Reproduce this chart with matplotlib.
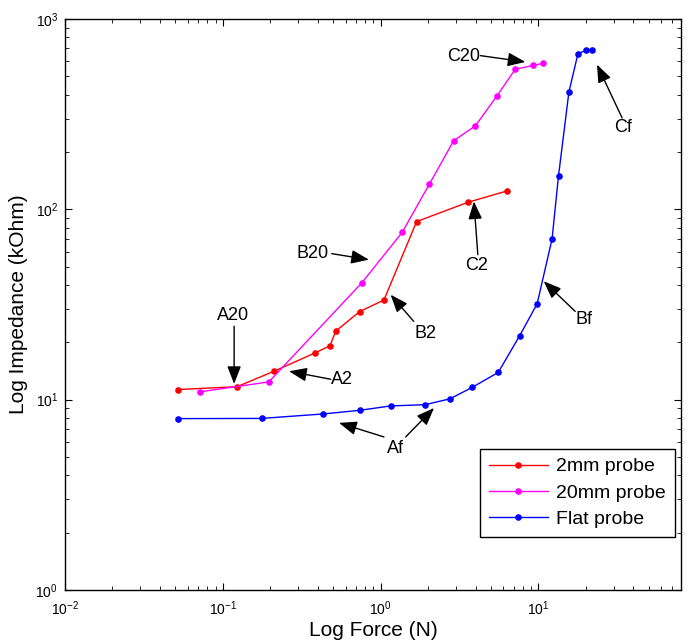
# log-log plot of probe impedance against applied force
import matplotlib.pyplot as plt

plt.rcParams['font.family'] = ['Liberation Sans', 'DejaVu Sans']

# 2mm probe
force_2mm = [0.052, 0.123, 0.211, 0.384, 0.478, 0.519, 0.736, 1.05, 1.69, 3.59, 6.34]
imp_2mm = [11.3, 11.7, 14.1, 17.6, 19.2, 22.9, 29.0, 33.4, 86.2, 109, 125]

# 20mm probe
force_20mm = [0.072, 0.196, 0.758, 1.37, 2.04, 2.90, 3.99, 5.48, 7.12, 9.30, 10.7]
imp_20mm = [11.0, 12.4, 41.0, 75.7, 136, 229, 275, 396, 544, 571, 585]

# flat probe
force_flat = [0.052, 0.176, 0.431, 0.736, 1.157, 1.91, 2.75, 3.80, 5.56, 7.61,
              9.81, 12.2, 13.4, 15.6, 17.8, 20.1, 21.9]
imp_flat = [7.95, 7.97, 8.41, 8.79, 9.27, 9.41, 10.1, 11.6, 13.9, 21.7,
            31.9, 69.9, 150, 414, 658, 685, 690]

series_labels = ['2mm probe', '20mm probe', 'Flat probe']
series_colors = ['#ff0000', '#ff00ff', '#0000ff']

# annotations: label, text position, list of (arrow tail, arrow tip)
notes = [
    ('A20', (0.116, 27.6), [((0.118, 24.3), (0.118, 12.1))]),
    ('A2', (0.573, 12.7), [((0.483, 12.8), (0.263, 14.1))]),
    ('B2', (1.93, 22.4), [((1.62, 25.8), (1.157, 35.6))]),
    ('B20', (0.37, 58.5), [((0.49, 58.5), (0.843, 54.4))]),
    ('C2', (4.05, 50.6), [((4.13, 57.8), (3.90, 110))]),
    ('C20', (3.34, 637), [((4.29, 642), (8.27, 595))]),
    ('Cf', (34.4, 268), [((33.9, 302), (23.5, 576))]),
    ('Bf', (19.4, 26.3), [((17.1, 29.1), (10.8, 41.9))]),
    ('Af', (1.24, 5.57), [((1.05, 6.37), (0.545, 7.55)),
                          ((1.44, 6.37), (2.18, 9.04))]),
]

fig = plt.figure(figsize=(6.91, 6.42), dpi=100)
ax = fig.add_axes([0.094, 0.081, 0.8915, 0.8894])

for fx, fy, lab, col in zip([force_2mm, force_20mm, force_flat],
                            [imp_2mm, imp_20mm, imp_flat],
                            series_labels, series_colors):
    ax.plot(fx, fy, color=col, lw=1, marker='.', ms=7.5, label=lab)

ax.set_xscale('log')
ax.set_yscale('log')
ax.set_xlim(0.01, 80)
ax.set_ylim(1, 1000)

for label, tpos, arrows in notes:
    ax.text(tpos[0], tpos[1], label, fontsize=13, ha='center', va='center')
    for tail, tip in arrows:
        ax.annotate('', xy=tip, xytext=tail,
                    arrowprops=dict(arrowstyle='-|>,head_length=0.9,head_width=0.35',
                                    color='black', lw=1, mutation_scale=12,
                                    shrinkA=0, shrinkB=0))

ax.tick_params(which='both', direction='in', top=True, right=True, labelsize=10)
ax.tick_params(which='major', length=5)
ax.tick_params(which='minor', length=3)
ax.tick_params(axis='x', which='major', pad=7)
ax.tick_params(axis='y', which='major', pad=5)
for sp in ax.spines.values():
    sp.set_linewidth(1)

ax.set_xlabel('Log Force (N)', fontsize=15, labelpad=2)
ax.set_ylabel('Log Impedance (kOhm)', fontsize=15, labelpad=5)

leg = ax.legend(loc='lower right', bbox_to_anchor=(0.99, 0.093), fontsize=14,
                fancybox=False, edgecolor='black', framealpha=1,
                borderpad=0.45, handlelength=3.0, handletextpad=0.45,
                labelspacing=0.45, borderaxespad=0)
leg.get_frame().set_linewidth(1)

plt.savefig('out.png', dpi=100)
